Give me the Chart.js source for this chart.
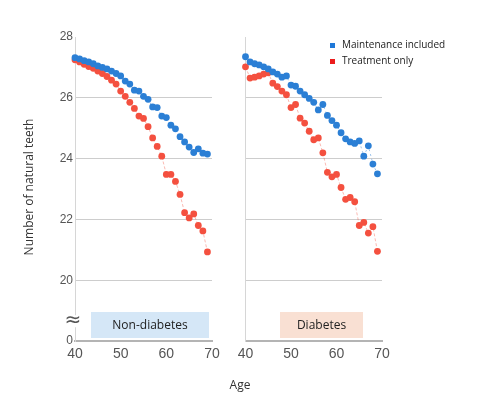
<!DOCTYPE html>
<html><head><meta charset="utf-8">
<script src="https://cdn.jsdelivr.net/npm/chart.js@4.4.0/dist/chart.umd.min.js"></script>
<style>
html,body{margin:0;padding:0;background:#fff;}
#wrap{position:relative;width:480px;height:410px;}
canvas{position:absolute;left:0;top:0;}
</style></head><body>
<div id="wrap"><canvas id="c1" width="480" height="410"></canvas><canvas id="c2" width="480" height="410"></canvas></div>
<script>
const ages = [40,41,42,43,44,45,46,47,48,49,50,51,52,53,54,55,56,57,58,59,60,61,62,63,64,65,66,67,68,69];
const nonDiabMaint = [27.32,27.28,27.22,27.18,27.12,27.05,27.00,26.95,26.88,26.80,26.72,26.55,26.45,26.25,26.22,26.05,25.95,25.70,25.68,25.40,25.35,25.10,24.98,24.72,24.55,24.38,24.20,24.32,24.18,24.15];
const nonDiabTreat = [27.25,27.18,27.10,27.03,26.97,26.88,26.80,26.70,26.58,26.45,26.22,26.05,25.85,25.65,25.40,25.32,25.05,24.68,24.40,24.08,23.48,23.48,23.25,22.82,22.22,22.05,22.18,21.80,21.62,20.93];
const diabMaint = [27.35,27.18,27.12,27.08,27.02,26.95,26.85,26.78,26.68,26.72,26.42,26.38,26.22,26.10,25.98,25.85,25.60,25.78,25.42,25.25,25.10,24.85,24.65,24.55,24.50,24.58,24.08,24.42,23.82,23.50];
const diabTreat = [27.02,26.65,26.68,26.72,26.78,26.82,26.48,26.37,26.22,26.10,25.68,25.78,25.33,25.17,24.90,24.62,24.68,24.19,23.55,23.40,23.48,23.05,22.66,22.72,22.58,21.80,21.90,21.55,21.76,20.95];
const seriesNames = ['Maintenance included','Treatment only'];
const panelNames = ['Non-diabetes','Diabetes'];
const xTicks = [40,50,60,70];
const yTicks = [18,20,22,24,26,28];
const yTickLabels = ['0','20','22','24','26','28'];

const BLUE = '#2b7fd5', RED = '#f4503f';
function pts(ys){ return ages.map((a,i)=>({x:a,y:ys[i]})); }

function datasets(maint, treat){
  return [
    {label:seriesNames[0], data:pts(maint), showLine:true, borderColor:'rgba(43,127,213,0.45)', borderWidth:1, borderDash:[2,3],
     backgroundColor:BLUE, pointBackgroundColor:BLUE, pointBorderWidth:0, pointRadius:3.4, clip:false},
    {label:seriesNames[1], data:pts(treat), showLine:true, borderColor:'rgba(244,80,63,0.4)', borderWidth:1, borderDash:[3,2],
     backgroundColor:RED, pointBackgroundColor:RED, pointBorderWidth:0, pointRadius:3.4, clip:false}
  ];
}

function scales(showY, yWidth){
  return {
    x:{type:'linear', min:40, max:70,
       afterBuildTicks:s=>{ s.ticks = xTicks.map(v=>({value:v})); },
       ticks:{font:{family:'Liberation Sans', size:14}, color:'#555', padding:5},
       grid:{display:false, drawTicks:false},
       border:{display:true, color:'#b4b4b4', width:2},
       afterFit:s=>{ s.height = 69; }},
    y:{type:'linear', min:18, max:28,
       afterBuildTicks:s=>{ s.ticks = yTicks.map(v=>({value:v})); },
       ticks:{display:showY, font:{family:'Liberation Sans', size:12}, color:'#555', padding:2,
              callback:(v)=> yTickLabels[yTicks.indexOf(v)]},
       grid:{drawTicks:false, lineWidth:1, color:c=> (c.tick && c.tick.value>18 && c.tick.value<28) ? '#cdcdcd' : 'rgba(0,0,0,0)'},
       border:{display:true, color:'#d6d6d6', width:1},
       afterFit:s=>{ s.width = yWidth; }}
  };
}

function box(ctx, x1, y1, x2, y2, fill, text){
  ctx.save();
  ctx.fillStyle = fill;
  ctx.fillRect(x1, y1, x2-x1, y2-y1);
  ctx.fillStyle = '#222';
  ctx.font = '12px "Open Sans"';
  ctx.textAlign = 'center'; ctx.textBaseline = 'middle';
  ctx.fillText(text, (x1+x2)/2, (y1+y2)/2 + 0.5);
  ctx.restore();
}

const leftDeco = {
  id:'leftDeco',
  afterDraw(chart){
    const ctx = chart.ctx;
    const ys = chart.scales.y;
    box(ctx, 91, 312, 209, 338, '#d5e7f7', panelNames[0]);
    // axis break mark
    ctx.save();
    const yb = ys.getPixelForValue(18.65);
    ctx.fillStyle = '#fff';
    ctx.fillRect(67, yb-6, 13, 12);
    ctx.fillStyle = '#555';
    ctx.font = '20px "DejaVu Sans"';
    ctx.textAlign = 'center'; ctx.textBaseline = 'middle';
    ctx.fillText('\u2248', 73, yb);
    // axis titles
    ctx.fillStyle = '#333';
    ctx.font = '12px "Open Sans"';
    ctx.fillText('Age', 240, 386);
    ctx.translate(30, 187);
    ctx.rotate(-Math.PI/2);
    ctx.fillText('Number of natural teeth', 0, 0);
    ctx.restore();
  }
};

const rightDeco = {
  id:'rightDeco',
  afterDraw(chart){
    const ctx = chart.ctx;
    box(ctx, 280, 312, 363, 338, '#f9e0d3', panelNames[1]);
    ctx.save();
    const cols = ['#1f78d8','#ec1c1c'];
    const ly = [45.5, 61.5];
    ctx.font = '10px "Open Sans"';
    ctx.textAlign = 'left'; ctx.textBaseline = 'middle';
    chart.data.datasets.forEach((d,i)=>{
      ctx.fillStyle = cols[i];
      ctx.fillRect(330, ly[i]-2.5, 5, 5);
      ctx.fillStyle = '#222';
      ctx.fillText(d.label, 342, ly[i]);
    });
    ctx.restore();
  }
};

const common = {responsive:false, animation:false, devicePixelRatio:window.devicePixelRatio||1,
  plugins:{legend:{display:false}, tooltip:{enabled:false}}};

new Chart(document.getElementById('c1'), {
  type:'scatter',
  data:{datasets:datasets(nonDiabMaint, nonDiabTreat)},
  options:Object.assign({}, common, {
    layout:{padding:{left:0, top:37, right:480-212, bottom:0}},
    scales:scales(true, 75)
  }),
  plugins:[leftDeco]
});

new Chart(document.getElementById('c2'), {
  type:'scatter',
  data:{datasets:datasets(diabMaint, diabTreat)},
  options:Object.assign({}, common, {
    layout:{padding:{left:0, top:37, right:480-382, bottom:0}},
    scales:scales(false, 245.5)
  }),
  plugins:[rightDeco]
});
</script>
</body></html>
